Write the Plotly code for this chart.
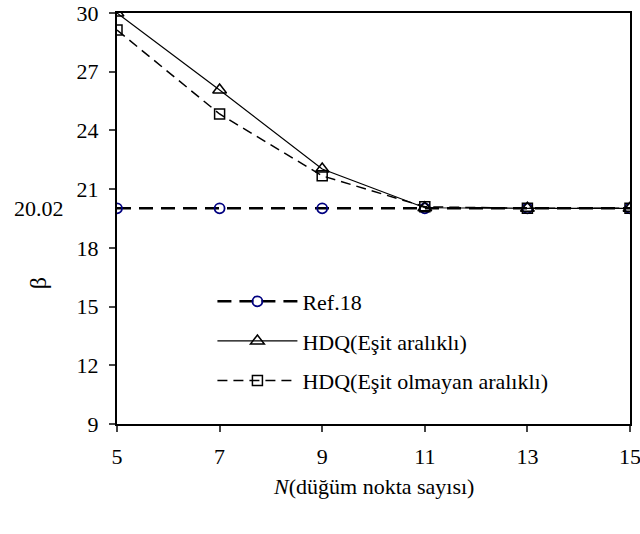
import plotly.graph_objects as go

N = [5, 7, 9, 11, 13, 15]
ref18 = [20.02, 20.02, 20.02, 20.02, 20.02, 20.02]
hdq_esit = [30.0, 26.07, 22.03, 20.05, 20.02, 20.02]
hdq_esit_olmayan = [29.13, 24.84, 21.68, 20.1, 20.02, 20.02]
x_ticks = [5, 7, 9, 11, 13, 15]
y_ticks = [9, 12, 15, 18, 21, 24, 27, 30]

FONT = "Liberation Serif"
FS = 22

fig = go.Figure()
fig.add_trace(go.Scatter(
    x=N, y=ref18, name="Ref.18", mode="lines+markers", legendgroup="a",
    line=dict(color="black", width=2.5, dash="14px,8px"),
    marker=dict(symbol="circle-open", size=10, color="#000080", line=dict(width=1.8, color="#000080")),
))
fig.add_trace(go.Scatter(
    x=N, y=hdq_esit, name="HDQ(Eşit aralıklı)", mode="lines+markers", legendgroup="b",
    line=dict(color="black", width=1.2),
    marker=dict(symbol="triangle-up-open", size=12, color="black", line=dict(width=1.5, color="black")),
))
fig.add_trace(go.Scatter(
    x=N, y=hdq_esit_olmayan, name="HDQ(Eşit olmayan aralıklı)", mode="lines+markers", legendgroup="c",
    line=dict(color="black", width=1.5, dash="10px,6px"),
    marker=dict(symbol="square-open", size=10, color="black", line=dict(width=1.5, color="black")),
))

fig.update_layout(
    width=640, height=534,
    margin=dict(l=117, r=10, t=13, b=110, autoexpand=False),
    paper_bgcolor="white", plot_bgcolor="white",
    font=dict(family=FONT, size=FS, color="black"),
    showlegend=True,
    legend=dict(x=0.186, y=0.349, xanchor="left", yanchor="top",
                bgcolor="rgba(0,0,0,0)", font=dict(family=FONT, size=FS),
                itemwidth=80, tracegroupgap=8),
    xaxis=dict(range=[5, 15], tickvals=x_ticks, ticks="outside", ticklen=6, tickwidth=1.5,
               showline=True, linewidth=2, linecolor="black", mirror=True, showgrid=False,
               zeroline=False, tickfont=dict(family=FONT, size=FS), ticklabelstandoff=6,
               automargin=False, ticklabeloverflow="allow"),
    yaxis=dict(range=[9, 30], tickvals=y_ticks, ticks="outside", ticklen=6, tickwidth=1.5,
               showline=True, linewidth=2, linecolor="black", mirror=True, showgrid=False,
               zeroline=False, tickfont=dict(family=FONT, size=FS), ticklabelstandoff=6,
               automargin=False, ticklabeloverflow="allow"),
    annotations=[
        dict(x=-0.152, y=20.02, xref="paper", yref="y", text="20.02", showarrow=False,
             font=dict(family=FONT, size=FS), xanchor="center"),
        dict(x=-0.183, y=0.343, xref="paper", yref="paper", text="β", showarrow=False,
             textangle=-90, font=dict(family=FONT, size=24)),
        dict(x=0.5, y=-0.152, xref="paper", yref="paper", text="<i>N</i>(düğüm nokta sayısı)",
             showarrow=False, font=dict(family=FONT, size=FS), yanchor="middle"),
    ],
)
fig.write_html("out.html")
